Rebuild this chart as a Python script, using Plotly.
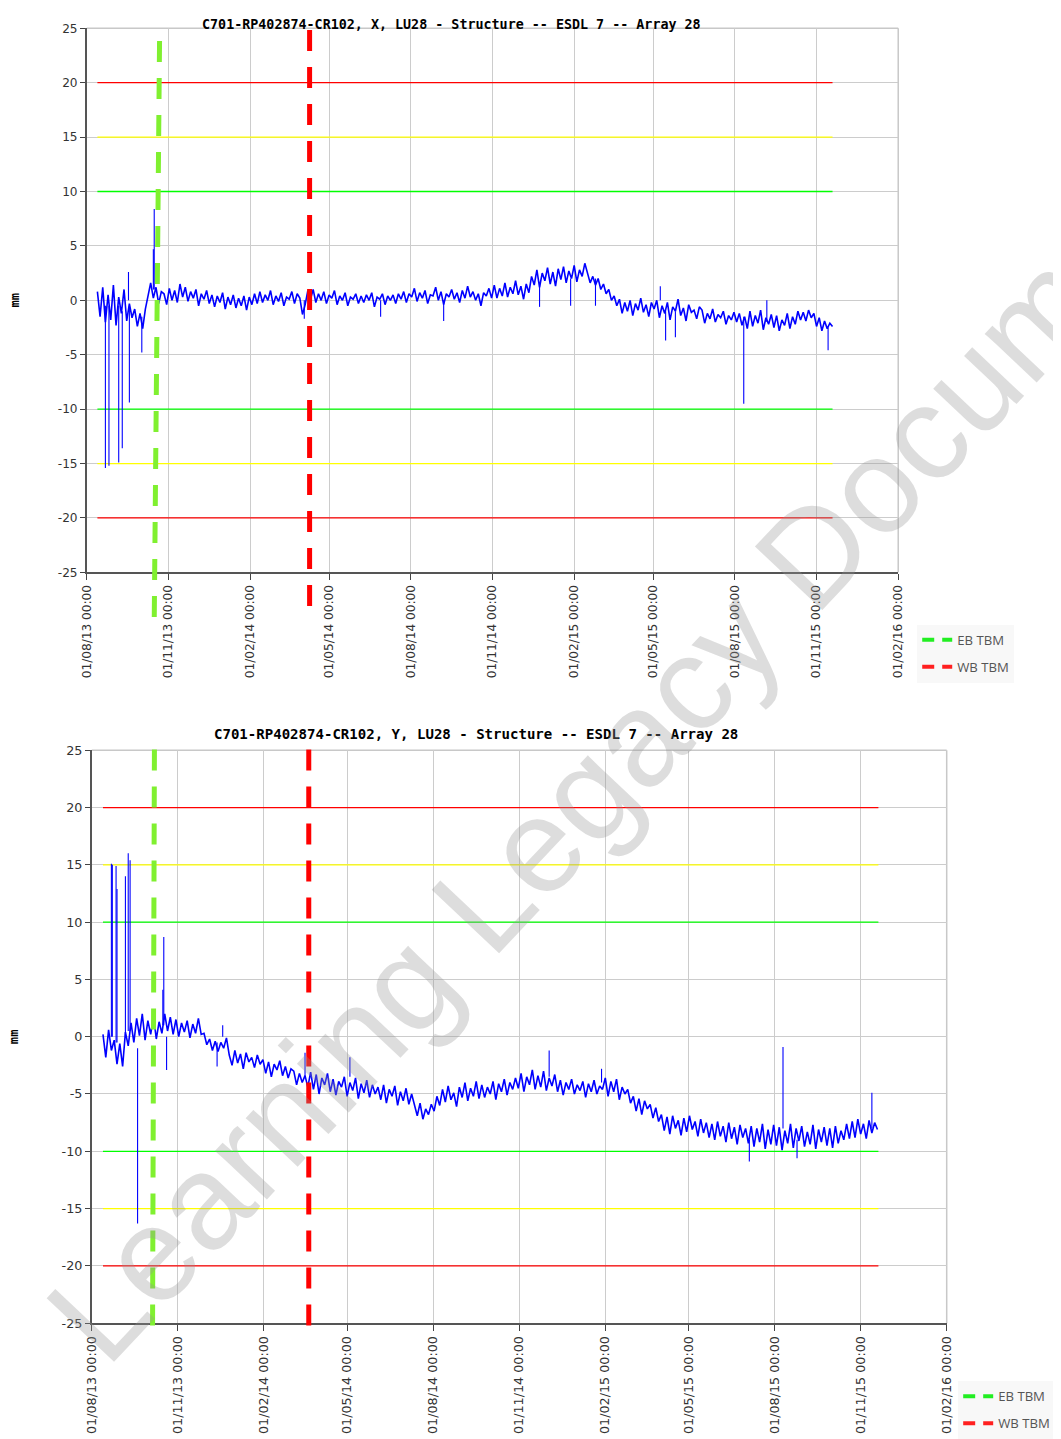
import pandas as pd
import plotly.graph_objects as go

# ---------------- data ----------------
SAMPLE_START = "2013-08-13"
SAMPLE_STEP = "3D"

# X displacement (mm), one value every 3 days
x_disp = [
    0.8, -1.5, 1.2, -2.0, 0.5, -1.8, 1.4, -2.3, 0.3, -1.2, 1.0, -1.9, -0.3, -1.6, -0.8, -2.4, -1.2, -2.6, -0.8,
    0.3, 1.6, 0.2, 1.2, -0.3, 0.8,
    0.6, -0.4, 1.1, 0.0, 0.9, -0.2, 1.5, 0.3, 1.2, -0.1, 0.8, 0.2, 1.0, -0.5, 0.6, 0.1, 0.9, -0.3, 0.5, -0.6,
    0.4, -0.2, 0.7, -0.8, 0.3, -0.4, 0.5, -0.7, 0.2, -0.5,
    0.4, -0.9, 0.3, -0.4, 0.6, -0.3, 0.8, -0.2, 0.5, 0.0, 0.9, -0.4, 0.4, -0.1, 0.7, -0.5, 0.3, 0.1, 0.8, -0.3, 0.6, 0.2,
    -1.3, -0.4,
    0.9, 0.1, 1.0, -0.2, 0.6, 0.0, 0.8, -0.3, 0.5, 0.2, 0.9, -0.4, 0.4, 0.0, 0.7, -0.5, 0.3, 0.1, 0.6, -0.3,
    0.4, -0.2, 0.5, 0.0, 0.7, -0.6, 0.3, 0.1, 0.6, -0.4, 0.4, 0.0, 0.5, -0.3, 0.6, 0.1,
    0.8, -0.2, 0.6, 0.3, 1.1, -0.1, 0.7, 0.2, 0.9, -0.3, 0.5, 0.4, 1.2, 0.0, 0.8, -0.4, 0.6, 0.3, 1.0, 0.1,
    0.7, -0.2, 0.9, 0.2, 1.3, 0.3, 0.8, 0.0, 0.6, -0.5, 0.7, 0.4, 1.1, 0.2,
    1.4, 0.2, 1.1, 0.4, 1.6, 0.3, 1.2, 0.6, 1.8, 0.5, 1.3, 0.1, 1.5, 0.7, 2.2,
    1.4, 2.8, 1.2, 2.5, 1.8, 3.0, 1.5, 2.6, 1.3, 2.9, 1.9, 3.1, 1.6, 2.7, 2.0, 3.2, 1.7, 2.8, 2.2, 3.4,
    2.5, 1.6, 2.2, 1.4, 2.0, 1.0, 1.5, 0.6, 1.0, 0.0, 0.4, -0.5,
    0.1, -1.2, -0.2, -1.0, 0.0, -1.4, -0.3, -0.9, 0.2, -1.1, -0.4, -1.5, -0.2, -0.8,
    0.0, -1.6, -0.5, -1.2, -0.2, -1.8, -0.6, -1.0, 0.1, -1.4, -0.7, -1.9, -0.4, -1.1, -0.9, -1.7, -0.6,
    -0.9, -2.1, -1.2, -1.7, -0.8, -2.0, -1.3, -1.6, -1.0, -2.2, -1.4, -1.8, -1.1, -2.0,
    -1.2, -2.3, -1.5, -2.6, -1.0, -2.4, -1.4, -2.1, -0.9, -2.7, -1.6, -2.2, -1.3,
    -2.5, -1.4, -2.8, -1.8, -2.3, -1.2, -2.6, -1.5, -2.2, -1.0, -1.8,
    -1.1, -1.9, -0.9, -1.6, -1.2,
    -2.4, -1.6, -2.8, -1.9, -2.6, -2.1, -2.4,
]

# Y displacement (mm), one value every 3 days
y_disp = [
    0.2, -1.8, 0.6, -1.2, -0.3, -2.4, -0.6, -2.6, 0.4,
    -0.8, 1.2, -0.5, 1.6, 0.1, 2.0, -0.3, 1.4, 0.2,
    1.8, -0.2, 1.3, 0.3, 2.0, 0.5, 1.7, 0.2, 1.5, 0.0, 1.2, 0.4, 1.4, -0.1, 1.1, 0.3, 1.6, 0.2,
    0.3, -0.7, -0.2, -1.2, -0.4, -1.3, -0.5, -1.0, -0.1,
    -1.6, -2.5, -1.2, -2.3, -1.5, -2.8, -1.4, -2.2, -1.8, -2.7, -1.6, -2.4,
    -2.0, -3.2, -2.2, -3.5, -2.4, -2.9, -2.1, -3.4, -2.6, -3.6, -2.8,
    -3.0, -4.2, -3.2, -4.0, -3.4, -4.4, -3.1,
    -4.6, -3.3, -5.0, -3.6, -4.2, -3.2, -4.8, -3.7, -5.1, -3.9,
    -4.4, -3.5, -5.2, -4.0, -4.7, -3.6, -5.4, -4.1, -4.9, -3.8, -5.3, -4.2, -5.0, -4.4,
    -5.5, -4.2, -5.8, -4.6, -5.2, -4.3, -6.0, -4.8, -5.6, -4.5, -5.9, -5.0,
    -6.0, -6.9, -5.8, -7.2, -6.3, -6.8, -5.9, -6.5,
    -5.2, -6.0, -4.6, -5.7, -4.3, -5.5, -4.9, -6.1, -4.4, -5.3, -4.0, -5.6, -4.5, -5.2, -3.9, -5.4,
    -4.2, -5.3, -4.4, -5.0, -3.9, -5.5, -4.1, -4.8, -3.7, -5.1, -4.0, -4.6, -3.6,
    -4.5, -3.2, -4.8, -3.5, -4.2, -2.9, -4.6, -3.4, -4.4, -3.0, -4.7, -3.6, -4.3, -3.3,
    -4.8, -3.8, -5.1, -4.0, -4.6, -3.7, -5.0, -4.2, -4.7, -3.9, -5.3, -4.1, -4.8, -3.8, -5.0, -4.3, -4.6,
    -3.6, -5.2, -3.9, -4.8, -3.7, -5.5, -4.4, -5.0, -4.6, -5.8,
    -5.2, -6.5, -5.4, -6.8, -5.6, -6.3, -5.9, -7.1, -6.2, -7.4,
    -6.8, -8.2, -7.0, -8.5, -6.9, -8.0, -7.3, -8.6, -7.1, -8.3, -6.9, -8.1, -7.4, -8.7, -7.2, -8.4, -7.5, -8.8,
    -7.6, -9.0, -7.4, -8.7, -7.8, -9.2, -7.5, -8.9, -7.9, -9.4, -7.7, -8.8, -8.0, -9.3,
    -7.8, -9.6, -8.0, -9.2, -7.6, -9.8, -8.1, -9.4, -7.7, -9.5, -7.9, -9.9, -8.2, -9.3, -7.6, -9.7, -8.0, -9.1,
    -7.8, -9.6, -8.3, -9.4, -7.7, -9.8, -8.1, -9.2, -7.9, -9.5, -8.0, -9.7, -7.8, -9.3, -8.2, -9.0, -7.6, -8.9,
    -7.4, -8.8, -7.2, -8.5, -7.6, -8.9, -7.3, -8.4, -7.5, -8.1,
]

# isolated spikes (date, value where the spike leaves the band, spike tip)
x_spike_dates = ["2013-08-22", "2013-08-26", "2013-09-06", "2013-09-10", "2013-09-17", "2013-09-18",
                 "2013-10-02", "2013-10-15", "2013-10-16", "2014-04-03", "2014-06-28", "2014-09-07",
                 "2014-12-24", "2015-01-28", "2015-02-25", "2015-05-09", "2015-05-15", "2015-05-26",
                 "2015-08-11", "2015-09-06", "2015-11-14"]
x_spike_base = [-0.5, -0.5, -0.5, -1.0, 0.0, -0.5, -1.5, 1.0, 1.0, 0.0, 0.0, 0.0,
                1.5, 2.0, 2.0, 0.0, -1.0, -1.0, -1.5, -2.0, -2.5]
x_spike_tip = [-15.4, -15.2, -14.9, -13.6, 2.6, -9.4, -4.8, 4.7, 8.4, -1.7, -1.5, -1.9,
               -0.6, -0.5, -0.5, 1.3, -3.7, -3.4, -9.5, 0.0, -4.6]

y_spike_dates = ["2013-08-22", "2013-08-23", "2013-08-27", "2013-08-28", "2013-09-06", "2013-09-09",
                 "2013-09-11", "2013-09-19", "2013-10-16", "2013-10-17", "2013-10-20", "2013-12-13",
                 "2013-12-19", "2014-03-17", "2014-05-04", "2014-12-03", "2015-01-28", "2015-07-05",
                 "2015-08-10", "2015-08-25", "2015-11-13"]
y_spike_base = [0.0, 0.0, -0.5, -0.5, 0.0, 0.5, 0.5, -1.0, 1.0, 1.0, 0.0, -0.5,
                0.0, -3.5, -3.5, -3.5, -4.0, -9.0, -8.0, -9.0, -8.0]
y_spike_tip = [15.1, 15.0, 14.9, 12.9, 14.0, 16.0, 15.4, -16.3, 4.1, 8.7, -2.9, -2.6,
               1.0, -1.4, -1.8, -1.2, -2.8, -10.9, -0.9, -10.6, -4.9]

# trigger levels
threshold_levels = [20, 15, 10, -10, -15, -20]
threshold_span_x = ["2013-08-13", "2015-11-19"]
threshold_span_y = ["2013-08-13", "2015-11-20"]

# TBM passage lines (date at top of line, date at bottom of line)
eb_tbm_chart_x = ["2013-10-22", "2013-10-16"]
wb_tbm_chart_x = ["2014-04-09", "2014-04-09"]
eb_tbm_chart_y = ["2013-10-07", "2013-10-05"]
wb_tbm_chart_y = ["2014-03-21", "2014-03-21"]

tick_dates = ["2013-08-01", "2013-11-01", "2014-02-01", "2014-05-01", "2014-08-01", "2014-11-01",
              "2015-02-01", "2015-05-01", "2015-08-01", "2015-11-01", "2016-02-01"]
tick_labels = ["01/08/13 00:00", "01/11/13 00:00", "01/02/14 00:00", "01/05/14 00:00", "01/08/14 00:00",
               "01/11/14 00:00", "01/02/15 00:00", "01/05/15 00:00", "01/08/15 00:00", "01/11/15 00:00",
               "01/02/16 00:00"]
y_tick_vals = [-25, -20, -15, -10, -5, 0, 5, 10, 15, 20, 25]
y_tick_labels = ["-25", "-20", "-15", "-10", "-5", "0", "5", "10", "15", "20", "25"]
x_range = ["2013-08-01", "2016-02-01"]

title_x = "C701-RP402874-CR102, X, LU28 - Structure -- ESDL 7 -- Array 28"
title_y = "C701-RP402874-CR102, Y, LU28 - Structure -- ESDL 7 -- Array 28"

# ---------------- styling ----------------
W, H = 1061, 1439
# the page is photographed with a small offset / scale; compensate so that
# positions below can be given in screenshot pixels
SX, BX = 0.9865, 15.2
SY, BY = 0.9902, 16.0
FS = 1 / 0.988  # font compensation

THRESH_COLORS = {20: "#FF0000", 15: "#FFFF00", 10: "#00FF00",
                 -10: "#00FF00", -15: "#FFFF00", -20: "#FF0000"}
EB_COLOR = "#80F030"
WB_COLOR = "#FF0000"
BLUE = "#0000FF"


def px_x(p):
    return ((p - BX) / SX) / W


def px_y(p):
    return 1 - ((p - BY) / SY) / H


panels = [
    dict(xa="x", ya="y", xname="xaxis", yname="yaxis",
         dom_x=[px_x(86), px_x(898)], dom_y=[px_y(572.7), px_y(28.3)],
         series=x_disp, sp_d=x_spike_dates, sp_b=x_spike_base, sp_t=x_spike_tip,
         span=threshold_span_x, eb=eb_tbm_chart_x, wb=wb_tbm_chart_x,
         eb_y=[px_y(41), px_y(622)], wb_y=[px_y(30), px_y(611)],
         legend="legend", title=title_x, title_x=451, title_y=1.0, title_anchor="top",
         title_size=13.2, font_size=12, mm_pos=(14, 300)),
    dict(xa="x2", ya="y2", xname="xaxis2", yname="yaxis2",
         dom_x=[px_x(91), px_x(946.5)], dom_y=[px_y(1324), px_y(750.7)],
         series=y_disp, sp_d=y_spike_dates, sp_b=y_spike_base, sp_t=y_spike_tip,
         span=threshold_span_y, eb=eb_tbm_chart_y, wb=wb_tbm_chart_y,
         eb_y=[px_y(750), px_y(1330)], wb_y=[px_y(750), px_y(1332)],
         legend="legend2", title=title_y, title_x=475.5, title_y=px_y(734), title_anchor="middle",
         title_size=13.9, font_size=12.6, mm_pos=(14, 1037)),
]

fig = go.Figure()
shapes = []
annotations = []
layout_axes = {}

for k, p in enumerate(panels):
    dates = pd.date_range(SAMPLE_START, periods=len(p["series"]), freq=SAMPLE_STEP)

    # trigger lines
    for lvl in threshold_levels:
        fig.add_trace(go.Scatter(x=p["span"], y=[lvl, lvl], mode="lines",
                                 line=dict(color=THRESH_COLORS[lvl], width=1.3),
                                 xaxis=p["xa"], yaxis=p["ya"], showlegend=False,
                                 hoverinfo="skip"))

    # displacement trace
    fig.add_trace(go.Scatter(x=dates, y=p["series"], mode="lines",
                             line=dict(color=BLUE, width=1.6),
                             xaxis=p["xa"], yaxis=p["ya"], showlegend=False))

    # spikes as vertical strokes
    sx, sy = [], []
    for d, b, t in zip(p["sp_d"], p["sp_b"], p["sp_t"]):
        sx += [d, d, None]
        sy += [b, t, None]
    fig.add_trace(go.Scatter(x=sx, y=sy, mode="lines", line=dict(color=BLUE, width=1.1),
                             xaxis=p["xa"], yaxis=p["ya"], showlegend=False))

    # legend entries for TBM lines
    gid = str(k + 1)
    fig.add_trace(go.Scatter(x=[None], y=[None], mode="lines", name="EB TBM",
                             line=dict(color="#22EE22", width=4, dash="12px,8px"),
                             xaxis=p["xa"], yaxis=p["ya"], legend=p["legend"],
                             legendgroup="eb" + gid))
    fig.add_trace(go.Scatter(x=[None], y=[None], mode="lines", name="WB TBM",
                             line=dict(color="#FF2020", width=4, dash="12px,8px"),
                             xaxis=p["xa"], yaxis=p["ya"], legend=p["legend"],
                             legendgroup="wb" + gid))

    # TBM dashed lines (extend beyond the plot area vertically)
    shapes.append(dict(type="line", xref=p["xa"], yref="paper",
                       x0=p["eb"][0], y0=p["eb_y"][0], x1=p["eb"][1], y1=p["eb_y"][1],
                       line=dict(color=EB_COLOR, width=5, dash="21px,16px"), layer="above"))
    shapes.append(dict(type="line", xref=p["xa"], yref="paper",
                       x0=p["wb"][0], y0=p["wb_y"][0], x1=p["wb"][1], y1=p["wb_y"][1],
                       line=dict(color=WB_COLOR, width=5, dash="21px,16px"), layer="above"))

    # light grey top/right frame
    shapes.append(dict(type="line", xref=p["xa"] + " domain", yref=p["ya"] + " domain",
                       x0=0, x1=1, y0=1, y1=1, line=dict(color="#C8C8C8", width=1.5), layer="below"))
    shapes.append(dict(type="line", xref=p["xa"] + " domain", yref=p["ya"] + " domain",
                       x0=1, x1=1, y0=0, y1=1, line=dict(color="#C8C8C8", width=1.5), layer="below"))

    tickfont = dict(family="DejaVu Sans", size=p["font_size"] * FS, color="#333333")
    layout_axes[p["xname"]] = dict(
        type="date", domain=p["dom_x"], range=x_range, anchor=p["ya"],
        tickmode="array", tickvals=tick_dates, ticktext=tick_labels, tickangle=-90,
        ticks="outside", ticklen=6, tickwidth=1, tickcolor="#444444",
        showline=True, linecolor="#555555", linewidth=1.5,
        showgrid=True, gridcolor="#CCCCCC", gridwidth=1, zeroline=False,
        tickfont=tickfont, fixedrange=True)
    layout_axes[p["yname"]] = dict(
        domain=p["dom_y"], range=[-25, 25], anchor=p["xa"],
        tickmode="array", tickvals=y_tick_vals, ticktext=y_tick_labels,
        ticks="outside", ticklen=5, tickwidth=1, tickcolor="#444444",
        showline=True, linecolor="#555555", linewidth=1.5,
        showgrid=True, gridcolor="#CCCCCC", gridwidth=1, zeroline=False,
        tickfont=tickfont, fixedrange=True)

    annotations.append(dict(text="<b>" + p["title"] + "</b>", xref="paper", yref="paper",
                            x=px_x(p["title_x"]), y=p["title_y"],
                            xanchor="center", yanchor=p["title_anchor"], showarrow=False,
                            borderpad=0,
                            font=dict(family="DejaVu Sans Mono", size=p["title_size"] * FS,
                                      color="#000000")))
    annotations.append(dict(text="<b>mm</b>", xref="paper", yref="paper",
                            x=px_x(p["mm_pos"][0]), y=px_y(p["mm_pos"][1]),
                            xanchor="center", yanchor="middle", showarrow=False, textangle=-90,
                            font=dict(family="DejaVu Sans Mono", size=12 * FS, color="#000000")))

# watermark
annotations.append(dict(text="Learning Legacy Document", xref="paper", yref="paper",
                        x=px_x(637), y=px_y(739), xanchor="center", yanchor="middle",
                        showarrow=False, textangle=-46.7,
                        font=dict(family="Liberation Sans", size=133 * FS,
                                  color="rgba(150,150,150,0.32)")))

legend_common = dict(xanchor="left", yanchor="top", bgcolor="#F8F8F8", borderwidth=0,
                     font=dict(family="Open Sans", size=13 * FS, color="#555555"),
                     tracegroupgap=7, itemclick=False, itemdoubleclick=False)

fig.update_layout(
    width=W, height=H, autosize=False,
    margin=dict(l=0, r=0, t=0, b=0, pad=0),
    paper_bgcolor="#FFFFFF", plot_bgcolor="#FFFFFF",
    font=dict(family="DejaVu Sans", color="#333333"),
    showlegend=True,
    legend=dict(x=px_x(917), y=px_y(625), **legend_common),
    legend2=dict(x=px_x(958), y=px_y(1382), **legend_common),
    shapes=shapes, annotations=annotations,
    **layout_axes,
)

fig.write_html("out.html")
